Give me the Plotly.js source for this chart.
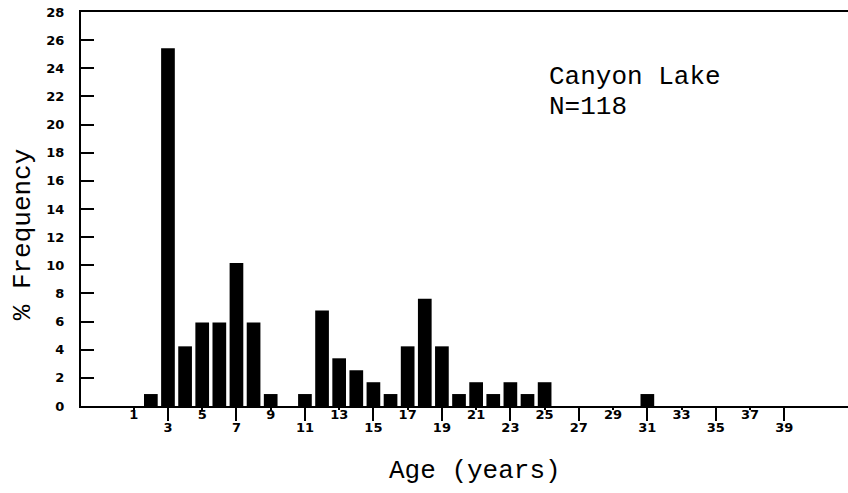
<!DOCTYPE html>
<html>
<head>
<meta charset="utf-8">
<script src="https://cdn.plot.ly/plotly-3.0.1.min.js"></script>
<style>
  html, body { margin: 0; padding: 0; background: #fff; }
  #chart { width: 848px; height: 493px; }
</style>
</head>
<body>
<div id="chart"></div>
<script>
// Age distribution, Canyon Lake sample (N = 118)
const ages = [2, 3, 4, 5, 6, 7, 8, 9, 11, 12, 13, 14, 15, 16, 17, 18, 19, 20, 21, 22, 23, 24, 25, 31];
const percentFreq = [0.85, 25.42, 4.24, 5.93, 5.93, 10.17, 5.93, 0.85, 0.85, 6.78, 3.39, 2.54, 1.69, 0.85,
                     4.24, 7.63, 4.24, 0.85, 1.69, 0.85, 1.69, 0.85, 1.69, 0.85];

// Odd ages are labelled on two staggered rows
const xTicksLower = [3, 7, 11, 15, 19, 23, 27, 31, 35, 39];
const xTicksUpper = [1, 5, 9, 13, 17, 21, 25, 29, 33, 37];
const yTicks = [0, 2, 4, 6, 8, 10, 12, 14, 16, 18, 20, 22, 24, 26, 28];

const monoFont = { family: "Liberation Mono, DejaVu Sans Mono, monospace", size: 26, color: "#000" };
const tickFont = { family: "DejaVu Sans, Arial, sans-serif", size: 13, color: "#000", weight: "bold" };

const xRange = [-2.08, 42.72];

const bars = {
  type: "bar",
  x: ages,
  y: percentFreq,
  width: 0.8,
  marker: { color: "#000", line: { width: 0 } },
  hoverinfo: "x+y",
  showlegend: false
};

// invisible carrier so the second (upper-row) axis is drawn
const upperAxisCarrier = {
  type: "scatter",
  x: [xRange[0]],
  y: [0],
  xaxis: "x2",
  mode: "markers",
  marker: { opacity: 0 },
  hoverinfo: "skip",
  showlegend: false
};

const layout = {
  width: 848,
  height: 493,
  margin: { l: 81, r: 0, t: 12, b: 86.5 },
  paper_bgcolor: "#fff",
  plot_bgcolor: "#fff",
  xaxis: {
    range: xRange,
    tickmode: "array",
    tickvals: xTicksLower,
    ticktext: xTicksLower.map(String),
    ticks: "outside",
    ticklen: 13,
    tickwidth: 2,
    tickcolor: "#000",
    tickfont: tickFont,
    ticklabelstandoff: -5,
    showline: true,
    linecolor: "#000",
    linewidth: 2,
    mirror: true,
    showgrid: false,
    zeroline: false,
    fixedrange: true
  },
  xaxis2: {
    overlaying: "x",
    anchor: "y",
    side: "bottom",
    range: xRange,
    tickmode: "array",
    tickvals: xTicksUpper,
    ticktext: xTicksUpper.map(String),
    ticks: "outside",
    ticklen: 3,
    tickwidth: 2,
    tickcolor: "#000",
    tickfont: tickFont,
    ticklabelstandoff: -7,
    showline: false,
    showgrid: false,
    zeroline: false,
    fixedrange: true
  },
  yaxis: {
    range: [0, 28],
    tickmode: "array",
    tickvals: yTicks,
    ticktext: yTicks.map(String),
    ticks: "inside",
    ticklen: 13,
    tickwidth: 2,
    tickcolor: "#000",
    tickfont: tickFont,
    ticklabelstandoff: 12,
    showline: true,
    linecolor: "#000",
    linewidth: 2,
    showgrid: false,
    zeroline: false,
    fixedrange: true
  },
  annotations: [
    {
      text: "Canyon Lake",
      xref: "paper", yref: "paper",
      x: 0.607, y: 0.835,
      xanchor: "left", yanchor: "middle",
      showarrow: false,
      font: monoFont
    },
    {
      text: "N=118",
      xref: "paper", yref: "paper",
      x: 0.607, y: 0.76,
      xanchor: "left", yanchor: "middle",
      showarrow: false,
      font: monoFont
    },
    {
      text: "Age (years)",
      xref: "paper", yref: "paper",
      x: 0.514, y: -0.165,
      xanchor: "center", yanchor: "middle",
      showarrow: false,
      font: monoFont
    },
    {
      text: "% Frequency",
      xref: "paper", yref: "paper",
      x: -0.076, y: 0.435,
      xanchor: "center", yanchor: "middle",
      textangle: -90,
      showarrow: false,
      font: monoFont
    }
  ]
};

Plotly.newPlot("chart", [bars, upperAxisCarrier], layout, { displayModeBar: false, staticPlot: true });
</script>
</body>
</html>
